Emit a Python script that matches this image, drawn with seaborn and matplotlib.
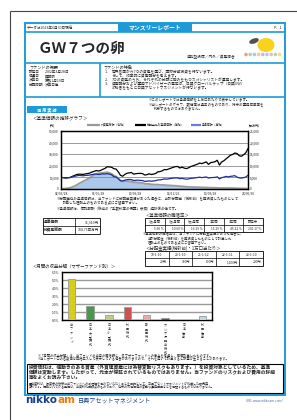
import numpy as np
import pandas as pd
import seaborn as sns
import matplotlib.pyplot as plt
from matplotlib.patches import Rectangle, Ellipse, Circle
from matplotlib.ticker import MultipleLocator, FuncFormatter

sns.set_theme(style="white")
plt.rcParams['font.family'] = ['Noto Sans CJK JP', 'DejaVu Sans']

# ---- data (quarterly) ----
nav_with_div = [10000, 9800, 9500, 9700,
                9900, 10800, 11600, 12400,
                12800, 12700, 12600, 13000,
                13300, 13700, 14600, 15200,
                15900, 15500, 16000, 17000,
                17800, 19200, 19000, 18700,
                17500, 17200, 14800, 11800,
                11000, 12600, 13600, 13900,
                14200, 12800, 13200, 13400,
                13500, 13300, 12100, 12300,
                13100, 12500, 12800, 13400,
                14800, 15000, 15700, 16800,
                16600, 17300, 18000, 18700,
                19300, 19400, 18100, 18800,
                18000, 17600, 18300, 19400,
                20000, 20700, 21400, 22300,
                21900, 22600, 23400, 21200,
                22700, 23100, 23500, 24800,
                20600, 23300, 24300, 26000,
                27500, 29100, 29800, 31000,
                30600, 28700, 28200, 29600,
                31200, 34900]
nav = [10000, 9800, 9500, 9700,
       9800, 10400, 10900, 11300,
       11700, 11600, 11400, 11700,
       11800, 12000, 12500, 12800,
       12900, 12500, 12700, 13100,
       12900, 13300, 12800, 12200,
       10600, 10400, 8900, 7100,
       6900, 7700, 8100, 8200,
       8100, 7300, 7500, 7600,
       7400, 7300, 6600, 6700,
       7000, 6700, 6900, 7200,
       7800, 7900, 8200, 8700,
       8500, 8800, 9100, 9400,
       9500, 9500, 8900, 9200,
       8700, 8500, 8700, 9200,
       9300, 9600, 9900, 10200,
       9800, 10100, 10400, 9400,
       9800, 9900, 10000, 10500,
       8700, 9800, 10200, 10900,
       10400, 10900, 11100, 11500,
       10200, 9600, 9400, 9800,
       10300, 11916]
net_assets = [20, 150, 250, 350,
              500, 800, 1200, 1700,
              2300, 2800, 3300, 3800,
              4300, 4800, 5500, 6100,
              6600, 6700, 6900, 7000,
              7100, 7200, 6900, 6500,
              5800, 5400, 4500, 3600,
              3300, 3400, 3400, 3300,
              3200, 2900, 2900, 2800,
              2700, 2600, 2300, 2200,
              2200, 2000, 1950, 1900,
              1900, 1800, 1750, 1700,
              1600, 1550, 1500, 1450,
              1400, 1350, 1200, 1150,
              1050, 950, 900, 880,
              850, 800, 780, 750,
              700, 680, 660, 580,
              560, 540, 520, 500,
              400, 430, 420, 420,
              410, 400, 380, 370,
              320, 290, 260, 250,
              240, 105]
dates = pd.date_range("2002-03-31", periods=len(nav), freq="QE")

xtick_dates = ["2002-03-28", "2006-06-28", "2010-09-28", "2014-12-26", "2019-03-28", "2023-06-30"]
xtick_labels = ["02/03/28", "06/06/28", "10/09/28", "14/12/26", "19/03/28", "23/06/30"]

bar_cats = ["当ファンド", "日本大型株式", "日本小型株式", "外国株式", "新興国株式",
            "アジア好配当株式", "日本債券", "外国債券"]
bar_vals = [5.08, 1.75, 0.60, 1.66, 0.66, 0.20, 0.0, 0.46]
bar_colors = ["#f5e800", "#3aa83a", "#c9d67c", "#e53c3c", "#f2a0a0", "#555555", "#888888", "#bcd9ea"]

perf_head = ["1ヵ月間", "3ヵ月間", "6ヵ月間", "1年間", "3年間", "設定来"]
perf_vals = ["5.90 %", "10.60 %", "16.29 %", "15.29 %", "45.22 %", "201.17 %"]
div_head = ["19-1-10", "20-1-10", "21-1-12", "22-1-11", "23-1-10"]
div_vals = ["20円", "300円", "600円", "1,100円", "200円"]

W, H = 297, 420
BLUE = '#1e9bd7'

fig = plt.figure(figsize=(2.97, 4.2), dpi=100)
page = fig.add_axes([0, 0, 1, 1])
page.set_xlim(0, W)
page.set_ylim(H, 0)
page.axis('off')


def box(x0, y0, x1, y1):
    return [x0 / W, 1 - y1 / H, (x1 - x0) / W, (y1 - y0) / H]


def t(x, y, s, size=2.8, **kw):
    kw.setdefault('ha', 'left')
    kw.setdefault('va', 'center')
    page.text(x, y, s, fontsize=size, **kw)


def hline(y, x0, x1, c=BLUE, lw=1.0):
    page.plot([x0, x1], [y, y], color=c, lw=lw, solid_capstyle='butt')


def vline(x, y0, y1, c=BLUE, lw=1.0):
    page.plot([x, x], [y0, y1], color=c, lw=lw, solid_capstyle='butt')


# page frame
hline(11, 9.5, 297, c='#444444', lw=0.8)
vline(9.5, 11, 420, c='#444444', lw=0.8)
page.add_patch(Rectangle((25, 23), 260, 372, fill=False, ec=BLUE, lw=1.4))

# header
t(27, 28, "データは2023年6月30日現在", 2.6)
page.add_patch(Rectangle((118, 23), 74, 8.5, fc=BLUE, ec='none'))
t(155, 27.3, "マンスリーレポート", 4.2, ha='center', color='white', weight='bold')
t(282, 28, "P．1", 2.8, ha='right')
hline(32, 25, 285, lw=1.2)
t(38, 47.5, "ＧＷ７つの卵", 10.5, weight='bold', style='italic')
t(211, 57, "追加型投信／内外／資産複合", 2.7, ha='center')
# logo
page.add_patch(Ellipse((266, 45), 17, 14, fc='#f7d21e', ec='none'))
page.add_patch(Ellipse((254, 41), 10, 5, fc='#505050', ec='none', angle=-20))
for i, c in enumerate(["#f08080", "#8fd18f", "#90b8f0", "#f5c060", "#c0a0e0",
                       "#80d0d0", "#f0a0c0", "#a0d080", "#f0d070"]):
    page.add_patch(Circle((246 + i * 4.2, 54.5), 1.8, fc=c, ec='none', alpha=0.8))

# fund overview
hline(63.3, 25, 285, lw=1.2)
hline(96.8, 25, 285, lw=1.2)
vline(99.5, 63.3, 96.8, lw=1.2)
t(29, 67, "ファンドの概要", 3.0)
for i, (k, v) in enumerate([("設定日", "2002年3月28日"), ("償還日", "無期限"),
                            ("決算日", "原則1月10日"), ("分配時期", "決算日毎")]):
    t(29, 72 + i * 4.4, k, 2.6)
    t(45, 72 + i * 4.4, v, 2.6)
t(103, 67, "ファンドの特色", 3.0)
feat = [("1．", "世界各国から7つの資産を選び、国際分散投資を行ないます。"),
        ("", "そして、効率的に資産配分を考えます。"),
        ("2．", "7つの資産のうち、それぞれの分野に強みをもつスペシャリストが運用します。"),
        ("3．", "資産配分および運用アドバイザーの選定は、日興グローバルラップ（日興GW）"),
        ("", "の助言をもとに日興アセットマネジメントが行ないます。")]
for i, (n, s) in enumerate(feat):
    t(105, 71.7 + i * 4.0, n, 2.7)
    t(112, 71.7 + i * 4.0, s, 2.7)

t(149, 100.5, "※このレポートでは基準価額を１万口あたりで表示しています。", 2.5)
t(149, 105, "※当レポートのグラフ、数値等は過去のものであり、将来の運用成果等を", 2.5)
t(154, 109.5, "約束するものではありません。", 2.5)
page.add_patch(Rectangle((27, 106), 40, 7, fc=BLUE, ec='none'))
t(47, 109.6, "運 用 実 績", 3.0, ha='center', color='white', weight='bold')

# ---- NAV chart ----
t(33, 117.5, "＜基準価額の推移グラフ＞", 3.3)
hline(125, 87, 100, c='#9a9a9a', lw=1.6)
t(101, 125, "純資産総額（右軸）", 2.1)
hline(125, 135, 146, c='black', lw=1.6)
t(147, 125, "分配金込み基準価額（左軸）", 2.1)
hline(125, 191, 201, c='#6c7fd4', lw=1.6)
t(202, 125, "基準価額（左軸）", 2.1)
t(52, 126, "(円)", 2.2, ha='center')
t(254, 126, "(百万円)", 2.2, ha='center')

df = pd.DataFrame({"date": dates, "nav": nav, "navd": nav_with_div, "na": net_assets})
ax = fig.add_axes(box(61, 131, 248, 189))
ax2 = ax.twinx()
ax2.fill_between(df["date"], df["na"], color='#aac9ea', lw=0)
sns.lineplot(data=df, x="date", y="na", ax=ax2, color='#9a9a9a', lw=1.3)
sns.lineplot(data=df, x="date", y="navd", ax=ax, color='black', lw=0.9)
sns.lineplot(data=df, x="date", y="nav", ax=ax, color='#1f2f96', lw=0.9)
ax.set_zorder(ax2.get_zorder() + 1)
ax.patch.set_visible(False)
ax.set_xlim(pd.Timestamp("2002-03-28"), pd.Timestamp("2023-06-30"))
ax.set_ylim(0, 50000)
ax2.set_ylim(0, 25000)
ax.yaxis.set_major_locator(MultipleLocator(10000))
ax2.yaxis.set_major_locator(MultipleLocator(5000))
fmt = FuncFormatter(lambda v, p: f"{v:,.0f}")
ax.yaxis.set_major_formatter(fmt)
ax2.yaxis.set_major_formatter(fmt)
ax.set_xticks(pd.to_datetime(xtick_dates))
ax.set_xticklabels(xtick_labels)
ax.grid(axis='y', color='#8a8a8a', lw=0.6)
for a in (ax, ax2):
    a.set_xlabel("")
    a.set_ylabel("")
    a.tick_params(labelsize=2.3, length=0, pad=1.5)
    for sp in a.spines.values():
        sp.set_color('black')
        sp.set_linewidth(0.9)

t(57, 199, "※分配金込み基準価額は、当ファンドに分配金実績があった場合に、当該分配金（税引前）を再投資したものとして", 2.5)
t(63, 203.3, "計算した理論上のものである点にご留意下さい。", 2.5)
t(57, 209, "※基準価額は、信託報酬（後述の「手数料等の概要」参照）控除後の値です。", 2.5)

# left table
page.add_patch(Rectangle((43, 218), 57, 16, fill=False, ec='black', lw=0.6))
hline(226, 43, 100, c='black', lw=0.5)
vline(75, 218, 234, c='black', lw=0.5)
t(44, 222, "基準価額", 2.7, weight='bold')
t(44, 230, "純資産総額", 2.7, weight='bold')
t(99, 222, "11,916円", 2.5, ha='right')
t(99, 230, "104.75百万円", 2.5, ha='right')

# performance table
t(146, 215, "＜基準価額の騰落率＞", 3.2)
cw = (263 - 145) / 6
page.add_patch(Rectangle((145, 218), 118, 14, fill=False, ec='black', lw=0.6))
hline(225, 145, 263, c='black', lw=0.5)
for i in range(6):
    if i:
        vline(145 + i * cw, 218, 232, c='black', lw=0.5)
    t(145 + (i + 0.5) * cw, 221.5, perf_head[i], 2.4, ha='center')
    t(145 + (i + 1) * cw - 1, 228.5, perf_vals[i], 2.3, ha='right')
t(143, 234.5, "※基準価額の騰落率は、当ファンドに分配金実績があった場合に、", 2.4)
t(148, 239, "当該分配金（税引前）を再投資したものとして計算した", 2.4)
t(148, 243.5, "理論上のものである点にご留意下さい。", 2.4)

# distribution table
t(146, 248, "＜分配金実績(税引前)・1万口当たり＞", 3.2)
cw = (263 - 145) / 5
page.add_patch(Rectangle((145, 251), 118, 15, fill=False, ec='black', lw=0.6))
hline(258, 145, 263, c='black', lw=0.5)
for i in range(5):
    if i:
        vline(145 + i * cw, 251, 266, c='black', lw=0.5)
    t(145 + (i + 0.5) * cw, 254.5, div_head[i], 2.4, ha='center')
    t(145 + (i + 1) * cw - 1.5, 262, div_vals[i], 2.3, ha='right')

# ---- monthly return decomposition ----
t(33, 266, "＜月間の収益分解（マザーファンド別）＞", 3.2)
bx = fig.add_axes(box(62, 272, 212, 320))
sns.barplot(x=bar_cats, y=bar_vals, hue=bar_cats, palette=bar_colors, legend=False,
            ax=bx, width=0.4, edgecolor='#9a9a9a', linewidth=0.6, zorder=3)
bx.set_ylim(0, 6)
bx.yaxis.set_major_locator(MultipleLocator(1))
bx.yaxis.set_major_formatter(FuncFormatter(lambda v, p: f"{v:.1f}%"))
bx.grid(axis='y', color='#9a9a9a', lw=1.0, zorder=0)
bx.set_axisbelow(True)
bx.set_xticks(range(len(bar_cats)))
bx.set_xticklabels(["\n".join(s) for s in bar_cats], linespacing=1.0, va='top')
bx.tick_params(axis='y', labelsize=2.3, length=0, pad=2)
bx.tick_params(axis='x', labelsize=2.2, length=0, pad=2.5)
for sp in bx.spines.values():
    sp.set_color('black')
    sp.set_linewidth(1.0)

t(38, 355, "※「月間の収益分解」は、当ファンドの当月の騰落額と、各マザーファンドへの寄与を考慮し、簡便計算したものです。", 2.3)
t(38, 359.5, "※当レポート中の各数値は四捨五入して表示している場合がありますので、それを用いて計算すると誤差が生じることがあります。", 2.3)

# warning box
page.add_patch(Rectangle((27, 363.5), 256, 29, fill=False, ec='black', lw=0.8))
t(29, 368, "投資信託は、値動きのある資産（外貨建資産には為替変動リスクもあります。）を投資対象としているため、基準", 3.4, weight='bold')
t(29, 372.5, "価額は変動します。したがって、元本が保証されているものではありません。当ファンドのリスクおよび費用の詳細", 3.4, weight='bold')
t(29, 377, "等をよくお読み下さい。", 3.4, weight='bold')
t(29, 383, "■当資料は、投資者の皆様に当ファンドへのご理解を深めていただくことを目的として、日興アセットマネジメントが作成した販売用", 2.2)
t(29, 387, "資料です。掲載されている見解は、当資料作成時点のものであり、将来の市場環境の変動や運用成果などを保証するものではありません。", 2.2)

# footer
t(25, 400, "nikko", 7.5, weight='bold', color='#1b3c8e', family=['DejaVu Sans'])
t(57, 400, "am", 7.5, weight='bold', color='#f07a10', family=['DejaVu Sans'])
t(78, 400, "日興アセットマネジメント", 4.4, color='#1b3c8e')
t(283, 400, "URL www.nikkoam.com/", 2.3, ha='right', color='#4a6aa8')

fig.savefig("out.png", dpi=100)
